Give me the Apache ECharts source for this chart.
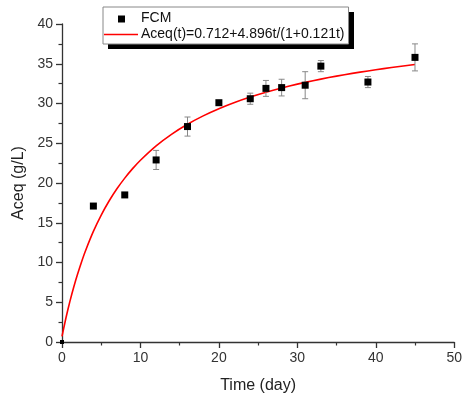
<!DOCTYPE html>
<html>
<head>
<meta charset="utf-8">
<script src="https://cdn.jsdelivr.net/npm/echarts@6/dist/echarts.min.js"></script>
<style>html,body{margin:0;padding:0;background:#fff}#c{width:465px;height:401px}</style>
</head>
<body>
<div id="c"></div>
<script>
// Measured data (FCM)
const times = [0, 4, 8, 12, 16, 20, 24, 26, 28, 31, 33, 39, 45];
const aceq  = [0, 17.1, 18.5, 22.9, 27.1, 30.1, 30.6, 31.9, 32.0, 32.3, 34.7, 32.7, 35.8];
const errs  = [0, 0, 0, 1.2, 1.2, 0, 0.7, 1.0, 1.05, 1.7, 0.7, 0.7, 1.7];
// Fitted curve samples
const fitT = [0, 0.5, 1, 1.5, 2, 2.5, 3, 4, 5, 6, 7, 8, 9, 10, 12, 14, 16, 18, 20, 22, 24, 26, 28, 30, 32, 34, 36, 38, 40, 42, 44, 45];
const fitY = [0.712, 3.020, 5.080, 6.928, 8.596, 10.109, 11.488, 13.909, 15.964, 17.732, 19.268, 20.614, 21.805, 22.866, 24.673, 26.155, 27.393, 28.443, 29.344, 30.125, 30.810, 31.415, 31.954, 32.436, 32.870, 33.263, 33.620, 33.947, 34.246, 34.522, 34.776, 34.897];
const xTicks = [0, 10, 20, 30, 40, 50];
const yTicks = [0, 5, 10, 15, 20, 25, 30, 35, 40];
const fitName = 'Aceq(t)=0.712+4.896t/(1+0.121t)';
const pointName = 'FCM';

const font = '"Liberation Sans", Arial, sans-serif';
const scatterData = times.map((t, i) => i === 0 ? {value: [t, aceq[i]], symbolSize: 4} : [t, aceq[i]]);
const errData = times.map((t, i) => [t, aceq[i] - errs[i], aceq[i] + errs[i], errs[i]]).filter(d => d[3] > 0);
const fitData = fitT.map((t, i) => [t, fitY[i]]);

const axisCommon = {
  axisLine: {show: true, onZero: false, lineStyle: {color: '#333', width: 1.3}},
  axisTick: {show: true, inside: false, length: 6, lineStyle: {color: '#333', width: 1.3}},
  minorTick: {show: true, splitNumber: 2, length: 3.5, lineStyle: {color: '#333', width: 1.2}},
  splitLine: {show: false},
  axisLabel: {color: '#333', fontFamily: font, fontSize: 14, margin: 9},
  nameLocation: 'middle',
  nameTextStyle: {color: '#222', fontFamily: font, fontSize: 16}
};

const chart = echarts.init(document.getElementById('c'), null, {renderer: 'canvas'});
chart.setOption({
  animation: false,
  backgroundColor: '#fff',
  grid: {left: 62, right: 9, top: 24, bottom: 59, containLabel: false},
  graphic: [
    {type: 'rect', z: 0, shape: {x: 108, y: 12, width: 246, height: 37}, style: {fill: '#000'}}
  ],
  legend: {
    orient: 'vertical',
    left: 103, top: 7,
    padding: [4, 4, 2, 1],
    itemGap: 1,
    itemWidth: 34, itemHeight: 15,
    backgroundColor: '#fff',
    borderColor: '#888', borderWidth: 1,
    z: 10,
    textStyle: {fontFamily: font, fontSize: 14, color: '#111', padding: [0, 0, 0, -2]},
    data: [
      {name: pointName, icon: 'path://M0,0M34,15M14,4.5h7v7h-7z', itemStyle: {color: '#000', opacity: 1}},
      {name: fitName, icon: 'path://M0,0M34,15M0,6.7h34v1.6h-34z', itemStyle: {color: '#ff0000'}}
    ]
  },
  xAxis: Object.assign({}, axisCommon, {
    type: 'value', min: 0, max: 50, interval: 10,
    name: 'Time (day)', nameGap: 36
  }),
  yAxis: Object.assign({}, axisCommon, {
    type: 'value', min: 0, max: 40, interval: 5,
    name: 'Aceq (g/L)', nameGap: 34
  }),
  series: [
    {
      name: fitName, type: 'line', data: fitData, smooth: 0.2,
      symbol: 'none', showSymbol: false,
      lineStyle: {color: '#ff0000', width: 1.6}, itemStyle: {color: '#ff0000'}, z: 2
    },
    {
      name: 'err', type: 'custom', data: errData, z: 3, silent: true,
      renderItem: function (params, api) {
        const x = api.value(0);
        const lo = api.coord([x, api.value(1)]);
        const hi = api.coord([x, api.value(2)]);
        const w = 3;
        const st = {stroke: '#888', lineWidth: 1, fill: null};
        return {type: 'group', children: [
          {type: 'line', shape: {x1: lo[0], y1: lo[1], x2: hi[0], y2: hi[1]}, style: st},
          {type: 'line', shape: {x1: lo[0] - w, y1: lo[1], x2: lo[0] + w, y2: lo[1]}, style: st},
          {type: 'line', shape: {x1: hi[0] - w, y1: hi[1], x2: hi[0] + w, y2: hi[1]}, style: st}
        ]};
      }
    },
    {
      name: pointName, type: 'scatter', data: scatterData, symbol: 'rect', symbolSize: 7,
      itemStyle: {color: '#000', opacity: 1}, z: 4, clip: false
    }
  ]
});
</script>
</body>
</html>
